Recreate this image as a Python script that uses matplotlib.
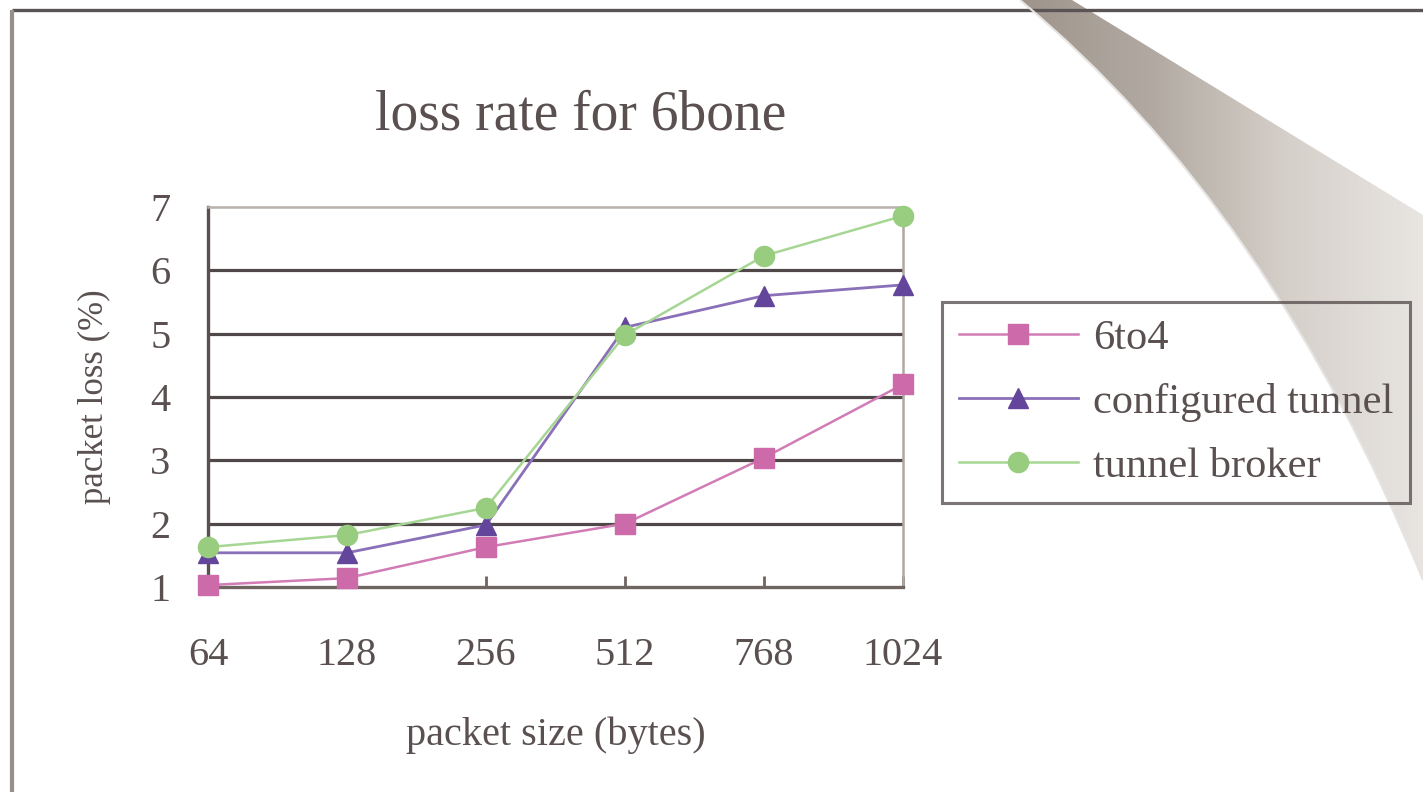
import matplotlib
matplotlib.use("Agg")
import matplotlib.pyplot as plt
import numpy as np
from matplotlib.patches import PathPatch
from matplotlib.path import Path
from matplotlib.colors import LinearSegmentedColormap

# ---- data ----
packet_sizes = ["64", "128", "256", "512", "768", "1024"]
loss_6to4 = [1.03, 1.14, 1.63, 2.0, 3.04, 4.2]
loss_configured = [1.54, 1.54, 1.98, 5.1, 5.6, 5.77]
loss_broker = [1.63, 1.82, 2.25, 4.98, 6.23, 6.86]
series_names = ["6to4", "configured tunnel", "tunnel broker"]
y_ticks = [1, 2, 3, 4, 5, 6, 7]

W, H = 1423, 792
fig = plt.figure(figsize=(W / 100, H / 100), dpi=100)
fig.patch.set_facecolor("white")
serif = "Liberation Serif"
txt = "#5a5050"

# ---- decorative background (slide borders + page curl) ----
bg = fig.add_axes([0, 0, 1, 1], zorder=-5)
bg.set_xlim(0, W)
bg.set_ylim(H, 0)
bg.axis("off")
bg.plot([12, W], [10, 10], color="#5a5454", lw=2.4, solid_capstyle="butt")
bg.plot([12, 12], [10, H], color="#9a8e8a", lw=3.0, solid_capstyle="butt")

curl_verts = [(1020, 0), (1271, 209), (1423, 580), (1423, 215), (1072, 0), (1020, 0)]
curl_codes = [Path.MOVETO, Path.CURVE3, Path.CURVE3, Path.LINETO, Path.LINETO, Path.CLOSEPOLY]
curl_path = Path(curl_verts, curl_codes)
poly = PathPatch(curl_path, facecolor="none", edgecolor="none")
bg.add_patch(poly)
grad = np.linspace(0, 1, 256).reshape(1, -1)
cmap = LinearSegmentedColormap.from_list("curl", ["#9e948c", "#b2aaa2", "#d6d0ca", "#e8e5e2"])
im = bg.imshow(grad, cmap=cmap, extent=[1020, 1423, H, 0], aspect="auto", zorder=1)
im.set_clip_path(poly)
edge = PathPatch(Path(curl_verts[:3], [Path.MOVETO, Path.CURVE3, Path.CURVE3]),
                 facecolor="none", edgecolor="#e6e4e2", lw=1.5, zorder=2)
bg.add_patch(edge)
bg.set_xlim(0, W)
bg.set_ylim(H, 0)

# ---- main axes ----
ax = fig.add_axes([208 / W, 1 - 587 / H, (903 - 208) / W, (587 - 207) / H])
ax.set_facecolor("none")
x = np.arange(len(packet_sizes))

ax.plot(x, loss_6to4, color="#d27cb6", lw=1.8, marker="s", ms=14.5,
        mfc="#cc6aaa", mec="#cc6aaa", clip_on=False, label=series_names[0], zorder=3)
ax.plot(x, loss_configured, color="#8a70b8", lw=2.0, marker="^", ms=15,
        mfc="#63469c", mec="#63469c", clip_on=False, label=series_names[1], zorder=3)
ax.plot(x, loss_broker, color="#a6d694", lw=1.8, marker="o", ms=14.5,
        mfc="#98cc7e", mec="#98cc7e", clip_on=False, label=series_names[2], zorder=3)

ax.set_xlim(0, len(packet_sizes) - 1)
ax.set_ylim(1, 7)
ax.set_xticks(x)
ax.set_xticklabels(packet_sizes, fontsize=29, family=serif, color=txt)
ax.set_yticks(y_ticks)
ax.set_yticklabels([str(v) for v in y_ticks], fontsize=29, family=serif, color=txt)
ax.tick_params(axis="x", direction="in", length=8, width=2, color="#6e6460", pad=36)
ax.tick_params(axis="y", length=0, pad=27)

for v in y_ticks[1:-1]:
    ax.axhline(v, color="#504848", lw=2.3, zorder=1)

ax.spines["left"].set_color("#5a5050")
ax.spines["left"].set_linewidth(2.4)
ax.spines["bottom"].set_color("#6e6460")
ax.spines["bottom"].set_linewidth(2.4)
ax.spines["top"].set_color("#b8b0ac")
ax.spines["top"].set_linewidth(1.8)
ax.spines["right"].set_color("#b0a8a4")
ax.spines["right"].set_linewidth(1.8)

ax.set_ylabel("packet loss (%)", fontsize=25, family=serif, color=txt)
ax.yaxis.set_label_coords(-0.163, 0.5)
ax.yaxis.label.set_va("center")
ax.set_xlabel("packet size (bytes)", fontsize=29, family=serif, color=txt)
ax.xaxis.set_label_coords(0.5, -0.389)
ax.xaxis.label.set_va("center")

fig.text(581 / W, 1 - 130 / H, "loss rate for 6bone", fontsize=40, family=serif,
         color=txt, ha="center", va="baseline")

leg = ax.legend(loc="upper left", bbox_to_anchor=(942 / W, 1 - 302 / H),
                bbox_transform=fig.transFigure, borderaxespad=0,
                prop={"family": serif, "size": 30.5}, frameon=True, fancybox=False,
                handlelength=2.8, handletextpad=0.36, labelspacing=0.6,
                borderpad=0.4)
leg.get_frame().set_facecolor("none")
leg.get_frame().set_edgecolor("#5a5252")
leg.get_frame().set_linewidth(2.2)
for t in leg.get_texts():
    t.set_color(txt)

fig.savefig("out.png", dpi=100, facecolor="white")
